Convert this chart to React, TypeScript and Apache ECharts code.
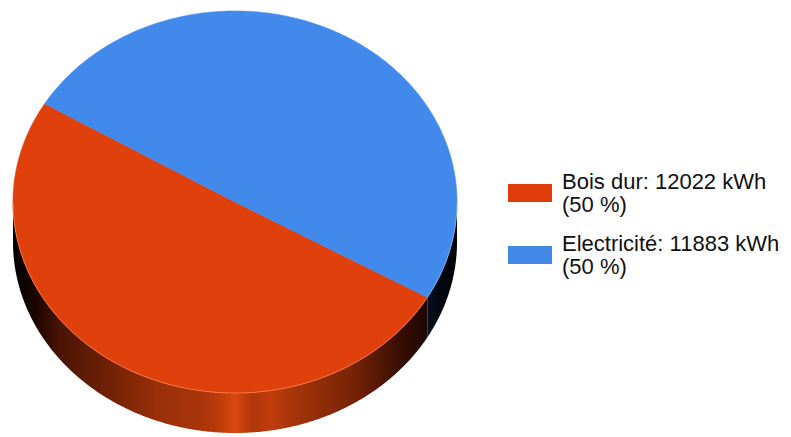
import React, { useEffect, useRef } from "react";
import * as echarts from "echarts";

const categories = ["Bois dur", "Electricité"];
const values = [12022, 11883];
const sliceColors = ["#DF400C", "#4289EC"];
const legendColors = ["#E03C0A", "#4289E8"];
const unit = "kWh";

const CX = 235;
const CY = 202;
const RX = 222;
const RY = 191;
const DEPTH = 40;
const START_DEG = 29.95;

const total = values.reduce((a, b) => a + b, 0);
const cumBefore = values.map((_, i) => values.slice(0, i).reduce((a, b) => a + b, 0));

function arcPts(a0: number, a1: number, dy: number): number[][] {
  const pts: number[][] = [];
  const n = Math.max(2, Math.ceil(Math.abs(a1 - a0) / 0.5));
  for (let k = 0; k <= n; k++) {
    const a = ((a0 + ((a1 - a0) * k) / n) * Math.PI) / 180;
    pts.push([CX + RX * Math.cos(a), CY + dy + RY * Math.sin(a)]);
  }
  return pts;
}

const sideGradients = [
  [
    { offset: 0, color: "#000000" },
    { offset: 0.05, color: "#1a0500" },
    { offset: 0.106, color: "#4a1404" },
    { offset: 0.24, color: "#7a2406" },
    { offset: 0.33, color: "#9a3008" },
    { offset: 0.42, color: "#a8340a" },
    { offset: 0.455, color: "#b8390a" },
    { offset: 0.5, color: "#d8480f" },
    { offset: 0.54, color: "#b0360a" },
    { offset: 0.58, color: "#c03c0c" },
    { offset: 0.65, color: "#a0320a" },
    { offset: 0.76, color: "#7a2406" },
    { offset: 0.87, color: "#3a0e02" },
    { offset: 0.96, color: "#100300" },
    { offset: 1, color: "#000000" },
  ],
  [
    { offset: 0, color: "#000000" },
    { offset: 0.5, color: "#1d3f78" },
    { offset: 0.8, color: "#0c1c38" },
    { offset: 0.93, color: "#06101f" },
    { offset: 1, color: "#000000" },
  ],
];
const edgeColors = ["rgba(255,140,90,0.7)", "rgba(150,195,255,0.6)"];

function makeRenderItem(i: number) {
  return (params: any, api: any) => {
    const v = api.value(0);
    const a0 = START_DEG + (cumBefore[i] / total) * 360;
    const a1 = a0 + (v / total) * 360;
    const children: any[] = [];
    for (const k of [-360, 0, 360]) {
      const lo = Math.max(a0, k);
      const hi = Math.min(a1, k + 180);
      if (hi > lo) {
        const top = arcPts(lo, hi, 0);
        const bottom = arcPts(hi, lo, DEPTH);
        children.push({
          type: "polygon",
          shape: { points: top.concat(bottom) },
          style: {
            fill: new echarts.graphic.LinearGradient(
              CX - RX,
              0,
              CX + RX,
              0,
              sideGradients[i],
              true
            ),
          },
        });
      }
    }
    children.push({
      type: "polygon",
      shape: { points: [[CX, CY]].concat(arcPts(a0, a1, 0)) },
      style: { fill: sliceColors[i], stroke: sliceColors[i], lineWidth: 0.6 },
    });
    for (const k of [-360, 0, 360]) {
      const lo = Math.max(a0, k);
      const hi = Math.min(a1, k + 180);
      if (hi > lo) {
        children.push({
          type: "polyline",
          shape: { points: arcPts(lo, hi, 0) },
          style: { fill: null, stroke: edgeColors[i], lineWidth: 1 },
        });
      }
    }
    return { type: "group", children };
  };
}

export default function App() {
  const ref = useRef<HTMLDivElement>(null);
  useEffect(() => {
    if (!ref.current) return;
    const chart = echarts.init(ref.current, undefined, { renderer: "svg" });
    chart.setOption({
      animation: false,
      backgroundColor: "#ffffff",
      legend: {
        orient: "vertical",
        left: 508,
        top: 170,
        padding: 0,
        itemWidth: 44,
        itemHeight: 18,
        itemGap: 16,
        icon: "rect",
        selectedMode: false,
        data: categories.map((c, i) => ({ name: c, itemStyle: { color: legendColors[i] } })),
        formatter: (name: string) => {
          const i = categories.indexOf(name);
          const pct = Math.round((values[i] / total) * 100);
          return `${name}: ${values[i]} ${unit}\n(${pct} %)`;
        },
        textStyle: {
          fontFamily: "Liberation Sans",
          fontSize: 22,
          lineHeight: 23,
          color: "#111111",
          padding: [0, 0, 0, 5],
        },
      },
      series: categories.map((c, i) => ({
        type: "custom",
        name: c,
        coordinateSystem: "none",
        itemStyle: { color: legendColors[i] },
        data: [[values[i]]],
        renderItem: makeRenderItem(i),
      })),
    });
    return () => chart.dispose();
  }, []);
  return (
    <div
      ref={ref}
      style={{ position: "absolute", left: 0, top: 0, width: 791, height: 437, background: "#fff" }}
    />
  );
}
